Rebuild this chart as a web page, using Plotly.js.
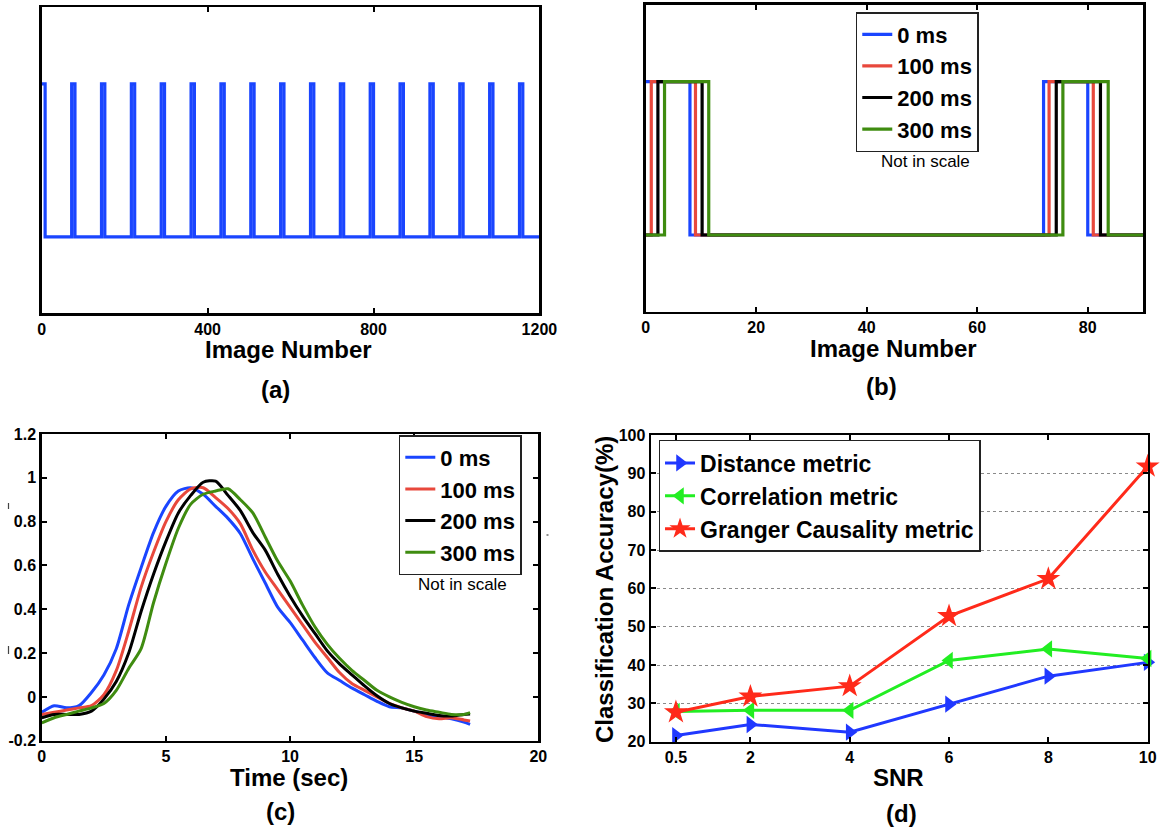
<!DOCTYPE html>
<html>
<head>
<meta charset="utf-8">
<script src="https://cdn.plot.ly/plotly-3.0.1.min.js"></script>
<style>
  html, body { margin: 0; padding: 0; background: #fff; }
  #fig { width: 1161px; height: 828px; }
</style>
</head>
<body>
<div id="fig"></div>
<script>
// ---------- (a) stimulus train over the whole run ----------
const runOnsets = [0, 72, 144, 216, 288, 360, 432, 504, 576, 648, 720, 792, 864, 936, 1008, 1080, 1152];
const runPulseWidth = 8;
const runLength = 1200;

// ---------- (b) first blocks of the train for each delay ----------
const delayLabels = ['0 ms', '100 ms', '200 ms', '300 ms'];
const delayOnsets = [[0, 72], [1, 73], [2.2, 74.3], [3.4, 75.5]];
const delayOffsets = [[8, 80], [9, 81], [10.2, 82.3], [11.4, 83.7]];
const blockLength = 90;

// ---------- (c) haemodynamic responses ----------
const timeSec = [0, 0.5, 1, 1.5, 2, 2.5, 3, 3.5, 4, 4.5, 5, 5.5, 6, 6.5, 7, 7.5, 8, 8.5, 9, 9.5,
                 10, 10.5, 11, 11.5, 12, 12.5, 13, 13.5, 14, 14.5, 15, 15.5, 16, 16.5, 17, 17.25];
const resp0ms = [-0.07, -0.04, -0.05, -0.04, 0.02, 0.10, 0.22, 0.42, 0.59, 0.75, 0.87, 0.94, 0.955, 0.925, 0.87, 0.815,
                 0.745, 0.63, 0.52, 0.41, 0.34, 0.26, 0.18, 0.11, 0.075, 0.04, 0.01, -0.02, -0.045, -0.05,
                 -0.065, -0.08, -0.09, -0.10, -0.115, -0.125];
const resp100ms = [-0.08, -0.07, -0.06, -0.05, -0.04, 0.01, 0.12, 0.30, 0.50, 0.66, 0.80, 0.90, 0.95, 0.955, 0.91, 0.86,
                   0.79, 0.67, 0.57, 0.49, 0.41, 0.33, 0.25, 0.18, 0.11, 0.06, 0.03, 0.0, -0.03, -0.05,
                   -0.065, -0.09, -0.10, -0.095, -0.105, -0.11];
const resp200ms = [-0.095, -0.08, -0.08, -0.08, -0.065, -0.01, 0.07, 0.20, 0.39, 0.56, 0.71, 0.84, 0.92, 0.98, 0.985, 0.92,
                   0.85, 0.75, 0.67, 0.56, 0.46, 0.37, 0.29, 0.21, 0.15, 0.10, 0.05, 0.005, -0.03, -0.05,
                   -0.065, -0.075, -0.085, -0.087, -0.08, -0.078];
const resp300ms = [-0.118, -0.095, -0.08, -0.065, -0.05, -0.03, 0.03, 0.13, 0.22, 0.43, 0.61, 0.77, 0.88, 0.925, 0.94, 0.95,
                   0.90, 0.84, 0.73, 0.62, 0.53, 0.42, 0.32, 0.24, 0.175, 0.12, 0.075, 0.03, 0.0, -0.025,
                   -0.045, -0.06, -0.07, -0.08, -0.08, -0.072];

// ---------- (d) classification accuracy against SNR ----------
const snrValues = [0.5, 2, 4, 6, 8, 10];
const snrLabels = ['0.5', '2', '4', '6', '8', '10'];
const distanceAcc = [21.6, 24.5, 22.5, 29.8, 37.1, 40.7];
const correlationAcc = [27.9, 28.2, 28.2, 41.2, 44.2, 41.7];
const grangerAcc = [27.7, 31.8, 34.5, 52.8, 62.5, 91.8];
const metricNames = ['Distance metric', 'Correlation metric', 'Granger Causality metric'];

// ---------- styling ----------
const FONT = 'Liberation Sans, Arial, Helvetica, sans-serif';
const delayColors = ['#1a45ff', '#e8483c', '#000000', '#3f8c10'];
const metricColors = ['#2038ff', '#22ee22', '#ff2a1a'];

// Build a step trace (on/off) from onset/offset lists
function pulseSteps(onsets, offsets, end) {
  const xs = [], ys = [];
  if (onsets[0] > 0) { xs.push(0); ys.push(0); }
  for (let i = 0; i < onsets.length; i++) {
    xs.push(onsets[i]); ys.push(1);
    xs.push(offsets[i]); ys.push(0);
  }
  xs.push(end); ys.push(0);
  return { x: xs, y: ys };
}

const traces = [];

// (a)
const runOffsets = runOnsets.map(o => o + runPulseWidth);
const runSteps = pulseSteps(runOnsets, runOffsets, runLength);
traces.push({
  x: runSteps.x, y: runSteps.y, xaxis: 'x', yaxis: 'y', type: 'scatter', mode: 'lines',
  line: { shape: 'hv', color: delayColors[0], width: 3.2 }, showlegend: false, hoverinfo: 'skip'
});

// (b)
delayLabels.forEach((name, i) => {
  const s = pulseSteps(delayOnsets[i], delayOffsets[i], blockLength);
  traces.push({
    x: s.x, y: s.y, xaxis: 'x2', yaxis: 'y2', type: 'scatter', mode: 'lines', name: name,
    line: { shape: 'hv', color: delayColors[i], width: 3.2 }, legend: 'legend'
  });
});

// (c)
[resp0ms, resp100ms, resp200ms, resp300ms].forEach((r, i) => {
  traces.push({
    x: timeSec, y: r, xaxis: 'x3', yaxis: 'y3', type: 'scatter', mode: 'lines', name: delayLabels[i],
    line: { color: delayColors[i], width: 3, shape: 'spline', smoothing: 0.7 }, legend: 'legend2'
  });
});

// (d)
const metricSymbols = ['triangle-right', 'triangle-left', 'star'];
const metricSizes = [15, 15, 18];
[distanceAcc, correlationAcc, grangerAcc].forEach((acc, i) => {
  traces.push({
    x: snrValues, y: acc, xaxis: 'x4', yaxis: 'y4', type: 'scatter', mode: 'lines+markers',
    name: metricNames[i], cliponaxis: false,
    line: { color: metricColors[i], width: 3 },
    marker: { symbol: metricSymbols[i], size: metricSizes[i], color: metricColors[i] },
    legend: 'legend3'
  });
});

const tickFont = { family: FONT, size: 16, weight: 'bold', color: '#000' };
function frameAxis(extra) {
  return Object.assign({
    showline: true, linecolor: '#000', linewidth: 2.5, mirror: 'ticks',
    ticks: 'inside', ticklen: 5, tickwidth: 2, tickcolor: '#000',
    showgrid: false, zeroline: false, tickfont: tickFont, fixedrange: true
  }, extra);
}
function plainFrame(extra) {
  return Object.assign({
    showline: true, linecolor: '#000', linewidth: 2.5, mirror: true,
    ticks: '', showticklabels: false, showgrid: false, zeroline: false, fixedrange: true
  }, extra);
}

function legendBox(x, y, size) {
  return {
    x: x, y: y, xanchor: 'left', yanchor: 'top', bgcolor: '#fff', bordercolor: '#222', borderwidth: 1.5,
    font: { family: FONT, size: size, weight: 'bold', color: '#000' }, tracegroupgap: 0, itemwidth: 30
  };
}

function label(text, x, y, size, extra) {
  return Object.assign({
    text: text, x: x, y: y, xref: 'paper', yref: 'paper', showarrow: false,
    xanchor: 'center', yanchor: 'middle',
    font: { family: FONT, size: size, weight: 'bold', color: '#000' }
  }, extra || {});
}
const plainNote = { font: { family: FONT, size: 17, color: '#000' } };

// small specks near panel (c)
function speck(x0, y0, x1, y1) {
  return { type: 'line', xref: 'paper', yref: 'paper',
    x0: x0 / 1161, x1: x1 / 1161, y0: 1 - y0 / 828, y1: 1 - y1 / 828,
    line: { color: '#444', width: 1.2 } };
}

const layout = {
  width: 1161, height: 828,
  margin: { l: 0, r: 0, t: 0, b: 0 },
  paper_bgcolor: '#fff', plot_bgcolor: '#fff',
  xaxis: frameAxis({ domain: [0.036, 0.4646], anchor: 'y', range: [0, runLength], tickvals: [0, 400, 800, 1200] }),
  yaxis: plainFrame({ domain: [0.6216, 0.9912], anchor: 'x', range: [-0.5, 1.5] }),
  xaxis2: frameAxis({ domain: [0.5562, 0.9845], anchor: 'y2', range: [0, blockLength], tickvals: [0, 20, 40, 60, 80] }),
  yaxis2: plainFrame({ domain: [0.6236, 0.994], anchor: 'x2', range: [-0.5, 1.5] }),
  xaxis3: frameAxis({ domain: [0.036, 0.4637], anchor: 'y3', range: [0, 20], tickvals: [0, 5, 10, 15, 20] }),
  yaxis3: frameAxis({ domain: [0.1054, 0.4758], anchor: 'x3', range: [-0.2, 1.2],
    tickvals: [-0.2, 0, 0.2, 0.4, 0.6, 0.8, 1, 1.2],
    ticktext: ['-0.2', '0', '0.2', '0.4', '0.6', '0.8', '1', '1.2'] }),
  xaxis4: frameAxis({ domain: [0.5608, 0.9885], anchor: 'y4', range: [0, 10], tickvals: snrValues, ticktext: snrLabels }),
  yaxis4: frameAxis({ domain: [0.1042, 0.4746], anchor: 'x4', range: [20, 100], dtick: 10,
    showgrid: true, gridcolor: '#8a8a8a', gridwidth: 1, griddash: 'dot' }),
  legend: legendBox(0.7371, 0.9855, 22),
  legend2: legendBox(0.3435, 0.4746, 22),
  legend3: legendBox(0.5672, 0.4686, 23),
  shapes: [
    speck(8.5, 503, 8.5, 509),
    speck(8.5, 646, 8.5, 654),
    speck(546.5, 535, 548.5, 535)
  ],
  annotations: [
    label('Image Number', 0.2486, 0.5773, 24),
    label('(a)', 0.2374, 0.529, 24),
    label('Image Number', 0.7692, 0.5789, 24),
    label('(b)', 0.7593, 0.533, 24),
    label('Not in scale', 0.7972, 0.8047, 17, plainNote),
    label('Time (sec)', 0.2486, 0.0604, 24),
    label('(c)', 0.2412, 0.0197, 24),
    label('Not in scale', 0.3983, 0.2943, 17, plainNote),
    label('SNR', 0.774, 0.0604, 24),
    label('(d)', 0.7766, 0.0181, 24),
    label('Classification Accuracy(%)', 0.5202, 0.2886, 24, { textangle: -90 })
  ]
};

Plotly.newPlot('fig', traces, layout, { staticPlot: true, displayModeBar: false });
</script>
</body>
</html>
